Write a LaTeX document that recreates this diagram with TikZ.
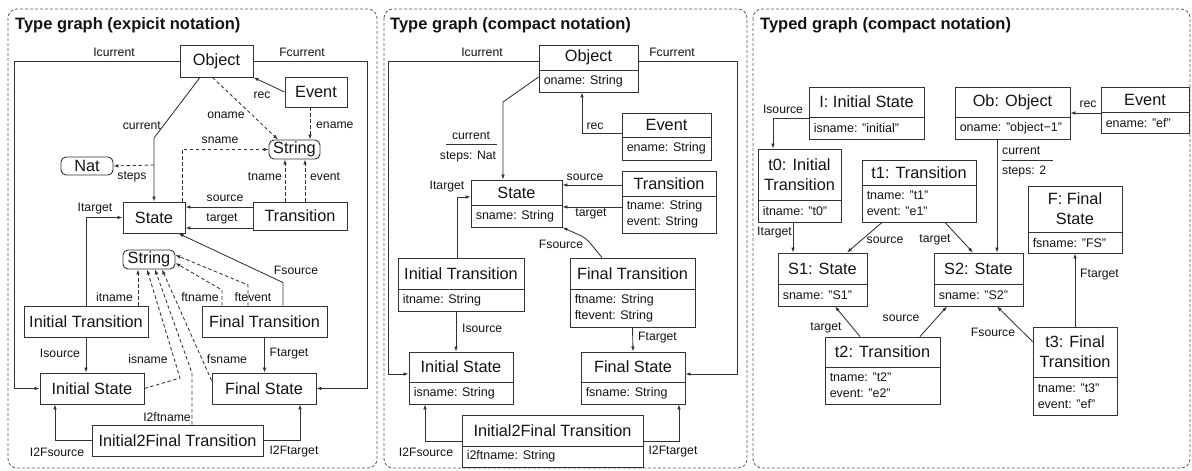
\documentclass[tikz,border=0pt]{standalone}
\usepackage{fontspec}
\setmainfont{Liberation Sans}
\usetikzlibrary{arrows.meta,calc}
\definecolor{ln}{RGB}{50,50,50}
\definecolor{tx}{RGB}{20,20,20}
\definecolor{pn}{RGB}{95,95,95}
\tikzset{
 box/.style={draw=ln, line width=0.9pt, inner sep=0pt, fill=white},
 rbox/.style={box, rounded corners=5pt},
 nm/.style={font=\fontsize{16.3}{20}\selectfont, text=tx},
 atr/.style={font=\fontsize{12.5}{16}\selectfont, align=left, text=tx, inner sep=0pt},
 lb/.style={font=\fontsize{12.2}{14}\selectfont, text=tx, inner sep=0pt},
 ttl/.style={font=\fontsize{16.5}{20}\selectfont\bfseries, text=tx, inner sep=0pt},
 sepline/.style={draw=ln, line width=0.9pt},
 arr/.style={draw=ln, line width=0.85pt, -{Latex[length=5pt,width=3.6pt]}},
 darr/.style={arr, dash pattern=on 3.5pt off 2.5pt},
 panel/.style={draw=pn, line width=0.8pt, dash pattern=on 3pt off 2pt, rounded corners=9pt},
}
\newcommand\cbox[8]{%
 \node[box, minimum width=#4pt, minimum height=#5pt] (#1) at (#2,#3) {};
 \draw[sepline] ($(#1.north west)+(0,#6)$) -- ($(#1.north east)+(0,#6)$);
 \node[nm, align=center, inner sep=0pt] at ($(#1.north)+(0,{#6/2})$) {#7};
 \node[atr, anchor=west] at ($(#1.north west)+(5,{(#5+#6)/2})$) {#8};
}
\begin{document}
\begin{tikzpicture}[x=1pt,y=-1pt]
\fill[white] (0,0) rectangle (1192,471);
\useasboundingbox (0,0) rectangle (1192,471);
% panels
\draw[panel] (8,9) rectangle (377,468);
\draw[panel] (384,9) rectangle (747,468);
\draw[panel] (753,9) rectangle (1190,468);
\node[ttl, anchor=base west] (ttlA) at (15,30) {Type graph (expicit notation)};
\node[ttl, anchor=base west] (ttlB) at (390,30) {Type graph (compact notation)};
\node[ttl, anchor=base west] (ttlC) at (760,30) {Typed graph (compact notation)};

% ---------------- left panel ----------------
\node[box,nm,minimum width=73pt,minimum height=32pt] (objL) at (216.5,61) {Object};
\node[box,nm,minimum width=62pt,minimum height=30pt] (evL) at (316,92) {Event};
\node[rbox,nm,minimum width=51pt,minimum height=19pt] (str1) at (294.5,149.5) {String};
\node[rbox,nm,minimum width=52pt,minimum height=18pt] (nat) at (87,166) {Nat};
\node[box,nm,minimum width=62pt,minimum height=31pt] (stL) at (154,217.5) {State};
\node[box,nm,minimum width=94pt,minimum height=28pt] (trL) at (300,216) {Transition};
\node[rbox,nm,minimum width=52pt,minimum height=19pt] (str2) at (149,259.5) {String};
\node[box,nm,minimum width=124pt,minimum height=31pt] (itL) at (86,321.5) {Initial Transition};
\node[box,nm,minimum width=125pt,minimum height=31pt] (ftL) at (264.5,321.5) {Final Transition};
\node[box,nm,minimum width=104pt,minimum height=31pt] (isL) at (92,388.5) {Initial State};
\node[box,nm,minimum width=104pt,minimum height=31pt] (fsL) at (264,388.5) {Final State};
\node[box,nm,minimum width=171pt,minimum height=31pt] (i2fL) at (177.5,440.5) {Initial2Final Transition};

\draw[arr] (objL.west) -- (14,61) |- (isL.west);
\node[lb] at (114,52) {Icurrent};
\draw[arr] (objL.east) -- (367,61) |- (fsL.east);
\node[lb] at (302,52) {Fcurrent};
\draw[arr] ([xshift=-16.5]objL.south) -- (154,138) coordinate (cbend) -- (stL.north);
\node[lb, anchor=east] at (161,126) {current};
\coordinate (stp) at (154,165);
\draw[darr] (stp) -- (nat.east);
\node[lb] at (132,177) {steps};
\draw[darr] ([xshift=-4]objL.south) -- ([xshift=-16.5]str1.north);
\node[lb] at (226,115) {oname};
\draw[arr] (evL.west) -- (objL.south east);
\node[lb] at (262,95) {rec};
\draw[darr] ([xshift=-6]evL.south) coordinate (p) -- (p |- str1.north);
\node[lb, anchor=west] at (316,125) {ename};
\draw[darr] ([xshift=28]stL.north) |- (str1.west);
\node[lb] at (220,140) {sname};
\draw[darr] ([xshift=-15]trL.north) coordinate (p) -- (p |- str1.south);
\node[lb, anchor=east] at (282,177) {tname};
\draw[darr] ([xshift=5]trL.north) coordinate (p) -- (p |- str1.south);
\node[lb, anchor=west] at (310,177) {event};
\draw[arr] ([yshift=9]trL.west) coordinate (p) -- (p -| stL.east);
\node[lb] at (225,198) {source};
\draw[arr] ([yshift=-12]trL.west) coordinate (p) -- (p -| stL.east);
\node[lb] at (222,219) {target};
\draw[arr] (itL.north) |- (stL.west);
\node[lb] at (95,209) {Itarget};
\draw[arr] ([xshift=18.5]ftL.north) -- ++(0,-23) -- ([xshift=-7]stL.south east);
\node[lb] at (296,270) {Fsource};
\draw[arr] (itL.south) coordinate (p) -- (p |- isL.north);
\node[lb] at (60,353) {Isource};
\draw[arr] (ftL.south) coordinate (p) -- (p |- fsL.north);
\node[lb] at (289,354) {Ftarget};
\draw[arr] (i2fL.west) -| ([xshift=-37]isL.south);
\node[lb] at (57,452) {I2Fsource};
\draw[arr] (i2fL.east) -| ([xshift=36]fsL.south);
\node[lb] at (294,452) {I2Ftarget};
% attribute edges to lower String
\draw[darr] ([xshift=52]itL.north) coordinate (p) -- (p |- str2.south);
\node[lb, anchor=east] at (133,297) {itname};
\draw[darr] (isL.east) -- (180,378) -- ([xshift=-2]str2.south);
\node[lb] at (148,359) {isname};
\draw[darr] ([xshift=14.5]i2fL.north) -- (192,373) -- ([xshift=6]str2.south);
\node[lb] at (167,417) {I2ftname};
\draw[darr] ([yshift=8]fsL.west) -- ([xshift=13]str2.south);
\node[lb] at (227,359) {fsname};
\draw[darr] ([xshift=-42.5]ftL.north) -- (222,290) -- ([yshift=-3.5]str2.east);
\node[lb] at (200,297) {ftname};
\draw[darr] ([xshift=-16.5]ftL.north) -- (248,285) -- ([yshift=4.5]str2.east);
\node[lb] at (253,297) {ftevent};

% ---------------- middle panel ----------------
\cbox{objM}{588.5}{68.5}{99}{47}{26}{Object}{oname: String}
\cbox{evM}{666.5}{136.5}{89}{47}{25}{Event}{ename: String}
\cbox{trM}{669}{202}{94}{62}{26}{Transition}{tname: String\\event: String}
\cbox{stM}{516.5}{203.5}{91}{47}{26}{State}{sname: String}
\cbox{itM}{461}{284.5}{126}{53}{32}{Initial Transition}{itname: String}
\cbox{ftM}{632.5}{292.5}{125}{69}{32}{Final Transition}{ftname: String\\ftevent: String}
\cbox{isM}{461}{378}{104}{52}{31}{Initial State}{isname: String}
\cbox{fsM}{633}{378}{104}{52}{31}{Final State}{fsname: String}
\cbox{i2fM}{552.5}{441}{181}{52}{32}{Initial2Final Transition}{i2ftname: String}

\draw[arr] ([yshift=7.5]objM.west) -- (388,61) |- ([yshift=4]isM.west);
\node[lb] at (482,52) {Icurrent};
\draw[arr] ([yshift=7.5]objM.east) -- (737,61) |- ([yshift=4]fsM.east);
\node[lb] at (672,52) {Fcurrent};
\draw[arr] ([yshift=-8.5]objM.west) -- (503,102) -- ([xshift=-13.5]stM.north);
\node[lb] (curM) at (471,136) {current};
\draw[sepline, line width=0.8pt] (446,144) -- (497,144);
\node[lb] at (468,157) {steps: Nat};
\draw[arr] ([yshift=3.5]evM.west) -| ([xshift=-6.5]objM.south);
\node[lb] at (595,126) {rec};
\draw[arr] ([yshift=17]trM.west) coordinate (p) -- (p -| stM.east);
\node[lb] at (585,177) {source};
\draw[arr] ([yshift=-5]trM.west) coordinate (p) -- (p -| stM.east);
\node[lb] at (591,214) {target};
\draw[arr] ([xshift=-4]itM.north) |- ([yshift=6.5]stM.west);
\node[lb] at (447,187) {Itarget};
\draw[arr, rounded corners=6pt] ([xshift=-30.5]ftM.north) -- (586,238) -- (stM.south east);
\node[lb] at (561,244) {Fsource};
\draw[arr] ([xshift=-5]itM.south) coordinate (p) -- (p |- isM.north);
\node[lb, anchor=west] at (462,328) {Isource};
\draw[arr] (ftM.south) -- (fsM.north);
\node[lb, anchor=west] at (638,338) {Ftarget};
\draw[arr] (i2fM.west) -| ([xshift=-36]isM.south);
\node[lb] at (426,452) {I2Fsource};
\draw[arr] (i2fM.east) -| ([xshift=46]fsM.south);
\node[lb] at (673,452) {I2Ftarget};

% ---------------- right panel ----------------
\cbox{iR}{866.5}{113}{115}{52}{31}{I: Initial State}{isname: "initial"}
\cbox{obR}{1012.5}{113}{115}{52}{31}{Ob: Object}{oname: "object−1"}
\cbox{evR}{1145}{110}{88}{46}{26}{Event}{ename: "ef"}
\cbox{t0R}{799.5}{185.5}{83}{73}{52}{t0: Initial\\Transition}{itname: "t0"}
\cbox{t1R}{919}{191}{114}{62}{26}{t1: Transition}{tname: "t1"\\event: "e1"}
\cbox{FR}{1075}{219.5}{94}{67}{47}{F: Final\\State}{fsname: "FS"}
\cbox{S1R}{822.5}{279.5}{89}{53}{32}{S1: State}{sname: "S1"}
\cbox{S2R}{978.5}{279.5}{89}{53}{32}{S2: State}{sname: "S2"}
\cbox{t2R}{882.5}{370.5}{115}{67}{31}{t2: Transition}{tname: "t2"\\event: "e2"}
\cbox{t3R}{1075}{371}{84}{88}{51}{t3: Final\\Transition}{tname: "t3"\\event: "ef"}

\draw[arr] ([yshift=-5]iR.west) -| ([xshift=-26.5]t0R.north);
\node[lb] at (783,109) {Isource};
\draw[arr] ([yshift=-3]evR.west) coordinate (p) -- (p -| obR.east);
\node[lb] at (1088,104) {rec};
\draw[arr] ([xshift=-15.5]obR.south) coordinate (p) -- (p |- S2R.north);
\node[lb, anchor=west] at (1002,151) {current};
\draw[sepline, line width=0.8pt] (1002,160) -- (1053,160);
\node[lb, anchor=west] at (1002,172) {steps: 2};
\draw[arr] ([xshift=-6.5]t0R.south) coordinate (p) -- (p |- S1R.north);
\node[lb, anchor=east] at (792,233) {Itarget};
\draw[arr] ([xshift=-37]t1R.south) -- ([xshift=24.5]S1R.north);
\node[lb] at (885,240) {source};
\draw[arr] ([xshift=26]t1R.south) -- ([xshift=-5.5]S2R.north);
\node[lb] at (935,240) {target};
\draw[arr] ([xshift=-22.5]t2R.north) -- ([xshift=12.5]S1R.south);
\node[lb] at (826,328) {target};
\draw[arr] ([xshift=37.5]t2R.north) -- ([xshift=-31.5]S2R.south);
\node[lb] at (901,318) {source};
\draw[arr] ([yshift=-15]t3R.north west) -- ([xshift=18.5]S2R.south);
\node[lb] at (993,332) {Fsource};
\draw[arr] (t3R.north) -- (FR.south);
\node[lb, anchor=west] at (1080,275) {Ftarget};
\end{tikzpicture}
\end{document}
